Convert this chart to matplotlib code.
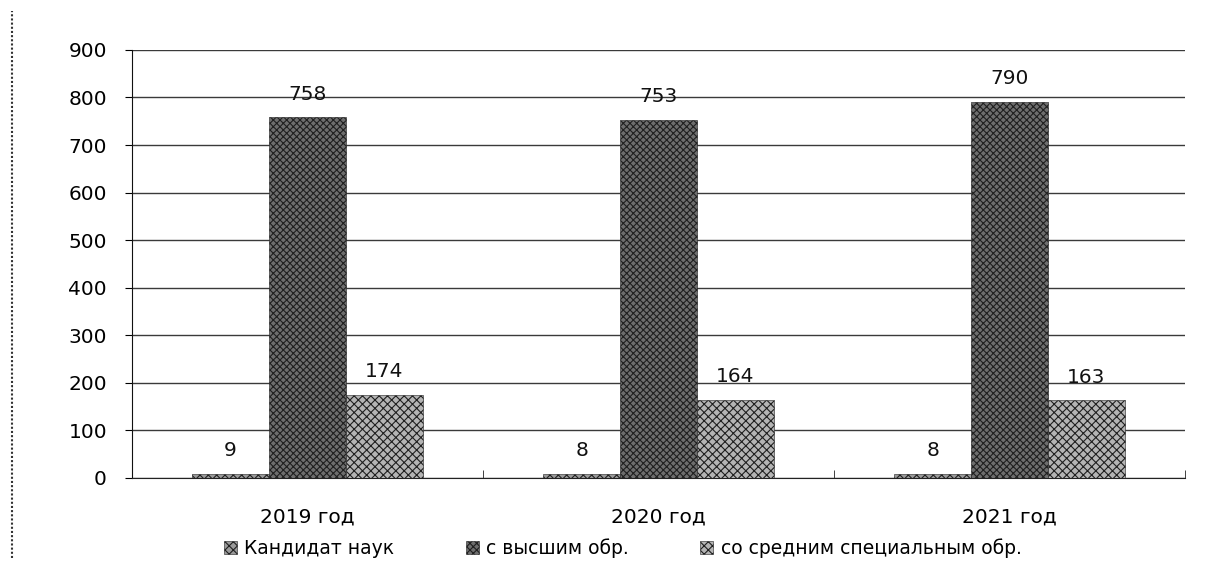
import numpy as np
import matplotlib
matplotlib.use("Agg")
import matplotlib.pyplot as plt
from matplotlib.lines import Line2D

plt.rcParams['font.family'] = ['DejaVu Sans']
plt.rcParams['hatch.linewidth'] = 0.8

# data
years = ["2019 год", "2020 год", "2021 год"]
series_names = ["Кандидат наук", "с высшим обр.", "со средним специальным обр."]
kandidat = [9, 8, 8]
vysshee = [758, 753, 790]
srednee = [174, 164, 163]
y_ticks = [0, 100, 200, 300, 400, 500, 600, 700, 800, 900]

# grey dither look -> face colour + hatch
STYLES = [
    {"color": "#9a9a9a", "hatch": "xxxx"},
    {"color": "#6e6e6e", "hatch": "xxxxx"},
    {"color": "#b4b4b4", "hatch": "xxxx"},
]

fig = plt.figure(figsize=(12.05, 5.67), dpi=100)
ax = fig.add_axes([0.1095, 0.157, 0.874, 0.755])

x = np.arange(len(years))
width = 0.219
all_vals = [kandidat, vysshee, srednee]
for i, (vals, name, st) in enumerate(zip(all_vals, series_names, STYLES)):
    bars = ax.bar(x + (i - 1) * width, vals, width=width, label=name,
                  facecolor=st["color"], edgecolor="#202020", linewidth=0.4,
                  hatch=st["hatch"], zorder=3)
    ax.bar_label(bars, padding=10, fontsize=14.5, color="#111111")

ax.set_xlim(-0.5, len(years) - 0.5)
ax.set_ylim(0, 900)
ax.set_yticks(y_ticks)
ax.yaxis.grid(True, color="#3a3a3a", linewidth=1.0, zorder=0)
ax.set_axisbelow(True)
for s in ["top", "right"]:
    ax.spines[s].set_visible(False)
ax.spines["left"].set_color("#111111")
ax.spines["bottom"].set_color("#222222")
ax.tick_params(axis="y", length=5, pad=13, labelsize=14.5)

# category labels at centres, tick marks at category boundaries
ax.set_xticks(x)
ax.set_xticklabels(years, fontsize=14.5)
ax.tick_params(axis="x", which="major", length=0, pad=21)
ax.set_xticks(np.arange(len(years) + 1) - 0.5, minor=True)
ax.tick_params(axis="x", which="minor", length=6, direction="in", color="#222222")

ax.legend(loc="center", bbox_to_anchor=(0.466, -0.165), ncol=3, frameon=False,
          fontsize=13.5, handlelength=0.7, handleheight=0.7, handletextpad=0.4,
          columnspacing=3.8)

# scanned page edge on the left
fig.add_artist(Line2D([0.01, 0.01], [0.015, 0.98], color="#333333",
                      linewidth=1.5, linestyle=(0, (1, 1))))

fig.savefig("out.png", dpi=100)
